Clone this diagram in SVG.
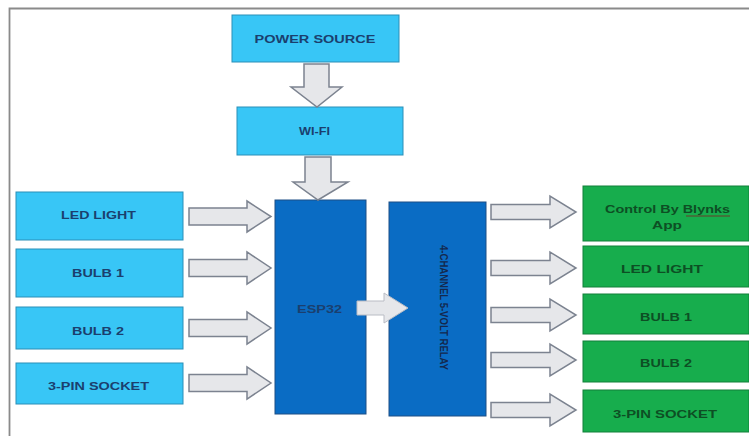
<svg xmlns="http://www.w3.org/2000/svg" width="749" height="436" viewBox="0 0 749 436">
<defs>
<style>
.lb{fill:#38c6f6;stroke:#2a8fb8;stroke-width:1}
.db{fill:#0a6cc4;stroke:#1d4f86;stroke-width:1}
.gr{fill:#17ad4d;stroke:#12803a;stroke-width:1}
.arr{fill:#e6e7ea;stroke:#7c8390;stroke-width:1.5;stroke-linejoin:miter}
.t{font-family:"Liberation Sans",Arial,sans-serif;font-weight:bold;font-size:11.5px;text-anchor:middle}
.tb{fill:#1b3f6e}
.tg{fill:#0d4f24}
</style>
</defs>
<rect x="0" y="0" width="749" height="436" fill="#ffffff"/>
<path d="M9.5 436 V8.5 H749" fill="none" stroke="#8a8a8a" stroke-width="1.8"/>

<g id="power-source">
<rect class="lb" x="232" y="15" width="167" height="47"/>
<text class="t tb" x="315" y="43" textLength="121" lengthAdjust="spacingAndGlyphs">POWER SOURCE</text>
</g>
<g id="wifi">
<rect class="lb" x="237" y="107" width="166" height="48"/>
<text class="t tb" x="314.5" y="135" textLength="31" lengthAdjust="spacingAndGlyphs">WI-FI</text>
</g>
<g id="in-led">
<rect class="lb" x="16" y="192" width="167" height="48"/>
<text class="t tb" x="98.5" y="219" textLength="75" lengthAdjust="spacingAndGlyphs">LED LIGHT</text>
</g>
<g id="in-bulb1">
<rect class="lb" x="16" y="249" width="167" height="48"/>
<text class="t tb" x="98" y="277" textLength="52" lengthAdjust="spacingAndGlyphs">BULB 1</text>
</g>
<g id="in-bulb2">
<rect class="lb" x="16" y="307" width="167" height="42"/>
<text class="t tb" x="98" y="335" textLength="52" lengthAdjust="spacingAndGlyphs">BULB 2</text>
</g>
<g id="in-socket">
<rect class="lb" x="16" y="363" width="167" height="41"/>
<text class="t tb" x="98.5" y="390" textLength="101" lengthAdjust="spacingAndGlyphs">3-PIN SOCKET</text>
</g>
<g id="esp32">
<rect class="db" x="275" y="200" width="91" height="214"/>
<text class="t tb" x="319.5" y="313" textLength="45" lengthAdjust="spacingAndGlyphs">ESP32</text>
</g>
<g id="relay">
<rect class="db" x="389" y="202" width="97" height="214"/>
<text class="t" x="0" y="0" transform="translate(440,307.5) rotate(90)" textLength="125" lengthAdjust="spacingAndGlyphs" style="font-size:10px;fill:#14284d">4-CHANNEL 5-VOLT RELAY</text>
</g>
<g id="out-blynk">
<rect class="gr" x="583" y="186" width="166" height="55"/>
<text class="t tg" x="667.5" y="213" textLength="125" lengthAdjust="spacingAndGlyphs">Control By Blynks</text>
<text class="t tg" x="667" y="229" textLength="30" lengthAdjust="spacingAndGlyphs">App</text>
<line x1="686" y1="216" x2="730" y2="216" stroke="#6b3a2a" stroke-width="1"/>
</g>
<g id="out-led">
<rect class="gr" x="583" y="246" width="166" height="41"/>
<text class="t tg" x="662" y="273" textLength="82" lengthAdjust="spacingAndGlyphs">LED LIGHT</text>
</g>
<g id="out-bulb1">
<rect class="gr" x="583" y="294" width="166" height="40"/>
<text class="t tg" x="666" y="321" textLength="52" lengthAdjust="spacingAndGlyphs">BULB 1</text>
</g>
<g id="out-bulb2">
<rect class="gr" x="583" y="341" width="166" height="41"/>
<text class="t tg" x="666" y="367" textLength="52" lengthAdjust="spacingAndGlyphs">BULB 2</text>
</g>
<g id="out-socket">
<rect class="gr" x="583" y="390" width="166" height="42"/>
<text class="t tg" x="665" y="418" textLength="104" lengthAdjust="spacingAndGlyphs">3-PIN SOCKET</text>
</g>

<g id="connectors">
<polygon class="arr" points="304,64 329,64 329,87 342,87 317,107 291,87 304,87"/>
<polygon class="arr" points="305,157 331,157 331,182 348,182 318,200 293,182 305,182"/>
<polygon class="arr" points="189,208 247,208 247,201 271,216.5 247,232 247,225 189,225"/>
<polygon class="arr" points="189,259.5 247,259.5 247,252 271,268 247,284 247,276.5 189,276.5"/>
<polygon class="arr" points="189,319.5 247,319.5 247,312 271,328 247,344 247,336.5 189,336.5"/>
<polygon class="arr" points="189,374.5 247,374.5 247,367 271,383 247,399 247,391.5 189,391.5"/>
<polygon class="arr" points="357,301 384,301 384,293 408,308 384,323 384,315 357,315" style="stroke:#b9bcc4;stroke-width:1"/>
<polygon class="arr" points="491,204.5 550,204.5 550,196 576,212 550,228 550,219.5 491,219.5"/>
<polygon class="arr" points="491,260.5 550,260.5 550,252 576,268 550,284 550,275.5 491,275.5"/>
<polygon class="arr" points="491,307.5 550,307.5 550,299 576,315 550,331 550,322.5 491,322.5"/>
<polygon class="arr" points="491,352.5 550,352.5 550,344 576,360 550,376 550,367.5 491,367.5"/>
<polygon class="arr" points="491,402.5 550,402.5 550,394 576,410 550,426 550,417.5 491,417.5"/>
</g>
</svg>
